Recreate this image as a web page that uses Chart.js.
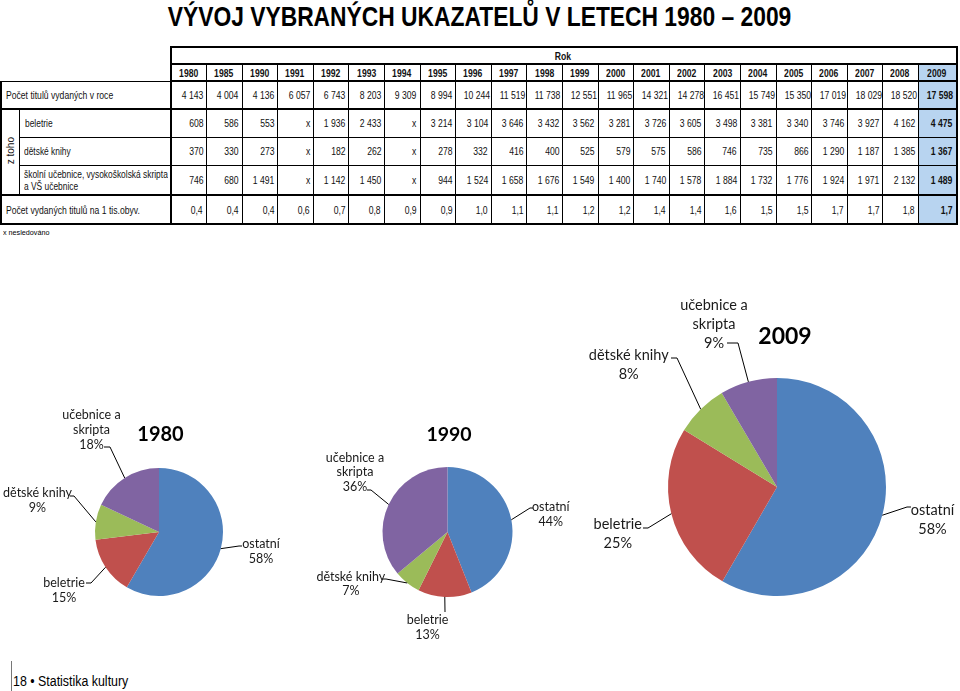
<!DOCTYPE html>
<html><head><meta charset="utf-8">
<script src="https://cdn.jsdelivr.net/npm/chart.js@4.4.0/dist/chart.umd.min.js"></script>
<style>
html,body{margin:0;padding:0;}
body{width:960px;height:691px;position:relative;background:#fff;overflow:hidden;
 font-family:'Liberation Sans',Arial,sans-serif;color:#000;}
.s{display:inline-block;transform:scaleX(0.82);white-space:nowrap;}
#title{position:absolute;left:0;top:1px;width:960px;text-align:center;font-weight:bold;font-size:28px;line-height:32px;}
#title .s{transform-origin:50% 50%;transform:scaleX(0.815);}
#tbl{position:absolute;left:0;top:46px;width:956px;border-collapse:collapse;table-layout:fixed;font-size:10.5px;color:#111;}
#tbl td{padding:0 3px 0 2px;white-space:nowrap;overflow:hidden;}
#tbl td.v{text-align:right;border:1px solid #000;}
#tbl td.v .s{transform-origin:100% 50%;}
#tbl td.h{text-align:center;font-weight:bold;border:1px solid #000;border-top:2px solid #000;border-bottom:2px solid #000;}
#tbl td.h .s{transform-origin:50% 50%;}
#tbl td.b{background:#b8d4f0;}
#tbl td.bb{font-weight:bold;}
#tbl td.lab{text-align:left;padding-left:4px;border:1px solid #000;border-left:2px solid #000;border-right:2px solid #000;}
#tbl td.lab2{text-align:left;padding-left:4px;border:1px solid #000;border-right:2px solid #000;line-height:12px;}
#tbl td.lab .s,#tbl td.lab2 .s{transform-origin:0 50%;}
#tbl td.lab2 .s{transform:scaleX(0.8);}
#tbl td.ztoho{border:2px solid #000;border-right:1px solid #000;text-align:center;padding:0;}
#tbl td.ztoho span{display:inline-block;writing-mode:vertical-rl;transform:rotate(180deg);font-size:10px;}
#tbl tr.thick td{border-bottom:2px solid #000;}
#tbl tr.thtop td{border-top:2px solid #000;}
#tbl td.last{border-right:2px solid #000;}
#note{position:absolute;left:3px;top:228px;font-size:8px;}
#note .s{transform-origin:0 50%;transform:scaleX(0.9);}
#foot{position:absolute;left:13px;top:671px;font-size:15.5px;line-height:20px;}
#foot .s{transform-origin:0 50%;transform:scaleX(0.8);}
#footbar{position:absolute;left:11px;top:661px;width:1px;height:30px;background:#777;}
canvas.pie{position:absolute;left:0;top:0;}
</style>
</head>
<body>
<div id="title"><span class="s">VÝVOJ VYBRANÝCH UKAZATELŮ V LETECH 1980 – 2009</span></div>
<table id="tbl"></table>
<div id="note"><span class="s">x nesledováno</span></div>
<div id="footbar"></div>
<div id="foot"><span class="s">18 • Statistika kultury</span></div>
<canvas class="pie" id="p1980" width="960" height="691"></canvas>
<canvas class="pie" id="p1990" width="960" height="691"></canvas>
<canvas class="pie" id="p2009" width="960" height="691"></canvas>
<script>
// ---- DATA ----
const years = [1980,1985,1990,1991,1992,1993,1994,1995,1996,1997,1998,1999,2000,2001,2002,2003,2004,2005,2006,2007,2008,2009];
const titlesTotal = [4143,4004,4136,6057,6743,8203,9309,8994,10244,11519,11738,12551,11965,14321,14278,16451,15749,15350,17019,18029,18520,17598];
const beletrie = [608,586,553,null,1936,2433,null,3214,3104,3646,3432,3562,3281,3726,3605,3498,3381,3340,3746,3927,4162,4475];
const detskeKnihy = [370,330,273,null,182,262,null,278,332,416,400,525,579,575,586,746,735,866,1290,1187,1385,1367];
const ucebnice = [746,680,1491,null,1142,1450,null,944,1524,1658,1676,1549,1400,1740,1578,1884,1732,1776,1924,1971,2132,1489];
const perThousand = [0.4,0.4,0.4,0.6,0.7,0.8,0.9,0.9,1.0,1.1,1.1,1.2,1.2,1.4,1.4,1.6,1.5,1.5,1.7,1.7,1.8,1.7];

const rowLabels = [['Počet titulů vydaných v roce'],['beletrie'],['dětské knihy'],['školní učebnice, vysokoškolská skripta','a VŠ učebnice'],['Počet vydaných titulů na 1 tis.obyv.']];
const pieCategories = ['ostatní','beletrie','dětské knihy','učebnice a skripta'];
const pieLabelLines = [['ostatní'],['beletrie'],['dětské knihy'],['učebnice a','skripta']];
const pieYears = [1980,1990,2009];
const piePctLabels = {1980:['58%','15%','9%','18%'],1990:['44%','13%','7%','36%'],2009:['58%','25%','8%','9%']};
const pieColors = ['#4f81bd','#c0504d','#9bbb59','#8064a2'];

// ---- TABLE ----
function fmtInt(n){ if(n===null) return 'x'; return String(n).replace(/\B(?=(\d{3})+(?!\d))/g,'\u00a0'); }
function fmtDec(n){ return n.toFixed(1).replace('.',','); }
function S(t){ return '<span class="s">'+t+'</span>'; }
function lab(lines){ return lines.map(S).join('<br>'); }
const tbl = document.getElementById('tbl');
const colW = [18,152].concat(years.map((y,i)=> i===years.length-1 ? 38 : 35.6));
let html = '<colgroup>'+colW.map(w=>'<col style="width:'+w+'px">').join('')+'</colgroup>';
const last = years.length-1;
html += '<tr style="height:17px"><td colspan="2" style="border:none"></td><td colspan="'+years.length+'" style="text-align:center;font-weight:bold;border:2px solid #000;">'+S('Rok')+'</td></tr>';
html += '<tr style="height:17px"><td colspan="2" style="border:none;border-right:2px solid #000"></td>'+years.map((y,i)=>'<td class="h'+(i===last?' b last':'')+'">'+S(y)+'</td>').join('')+'</tr>';
function dataRow(vals,fmt,labelCell,h,cls){
  return '<tr class="'+(cls||'')+'" style="height:'+h+'px">'+labelCell+vals.map((v,i)=>'<td class="v'+(i===last?' b bb last':'')+'">'+S(fmt(v))+'</td>').join('')+'</tr>';
}
html += dataRow(titlesTotal,fmtInt,'<td colspan="2" class="lab">'+lab(rowLabels[0])+'</td>',28,'thick');
html += dataRow(beletrie,fmtInt,'<td rowspan="3" class="ztoho"><span>z toho</span></td><td class="lab2" style="padding-left:5px">'+lab(rowLabels[1])+'</td>',28,'thtop');
html += dataRow(detskeKnihy,fmtInt,'<td class="lab2">'+lab(rowLabels[2])+'</td>',28,'');
html += dataRow(ucebnice,fmtInt,'<td class="lab2">'+lab(rowLabels[3])+'</td>',30,'thick');
html += dataRow(perThousand,fmtDec,'<td colspan="2" class="lab">'+lab(rowLabels[4])+'</td>',29,'thick');
tbl.innerHTML = html;

// ---- PIES ----
const pieGeom = {1980:{cx:159,cy:532,r:64,font:12.5,lh:15,title:20,tx:1.5,ty:-97},
                 1990:{cx:447.5,cy:532,r:65,font:12.5,lh:14.5,title:19.5,tx:1.5,ty:-97},
                 2009:{cx:777,cy:487,r:109,font:14.5,lh:19,title:23,tx:8,ty:-150}};
// label layout relative to pie centre: text centre x, first line y, leader elbow & end
const pieLayout = {
 1980:[{x:102,y:12,e:[80,14],f:[83,14]},{x:-95,y:51,e:[-68,51],f:[-73,51]},{x:-121.5,y:-39,e:[-85,-36],f:[-89,-36]},{x:-67.5,y:-117,e:[-49,-85],f:[-55,-85]}],
 1990:[{x:103.3,y:-24.7,e:[82.5,-24],f:[85.5,-24]},{x:-20,y:88,e:[-2.5,80],f:[-2.5,80]},{x:-96.7,y:44.7,e:[-61.5,47],f:[-65.5,47]},{x:-92.5,y:-74.3,e:[-76.5,-42],f:[-80.5,-42]}],
 2009:[{x:155.5,y:23,e:[130,20],f:[134,20]},{x:-159.2,y:37.3,e:[-129,41],f:[-134,41]},{x:-148.3,y:-132,e:[-100,-129],f:[-106,-129]},{x:-63,y:-182,e:[-39,-144],f:[-50,-144]}]
};

const labelPlugin = {
  id:'pieLabels',
  afterDatasetsDraw(chart){
    const yr = chart.options.plugins.pieLabels.year;
    const g = pieGeom[yr], lay = pieLayout[yr];
    const ctx = chart.ctx;
    const meta = chart.getDatasetMeta(0);
    ctx.save();
    meta.data.forEach((arc,i)=>{
      const p = arc.getProps(['x','y','startAngle','endAngle','outerRadius'],true);
      const mid = (p.startAngle+p.endAngle)/2;
      const ax = p.x + Math.cos(mid)*p.outerRadius, ay = p.y + Math.sin(mid)*p.outerRadius;
      const L = lay[i];
      ctx.strokeStyle='#000'; ctx.lineWidth=1;
      ctx.beginPath(); ctx.moveTo(ax,ay); ctx.lineTo(p.x+L.e[0],p.y+L.e[1]); ctx.lineTo(p.x+L.f[0],p.y+L.f[1]); ctx.stroke();
      const lines = pieLabelLines[i].concat([piePctLabels[yr][i]]);
      ctx.fillStyle='#1a1a1a'; ctx.font = g.font+'px Lato'; ctx.textAlign='center'; ctx.textBaseline='middle';
      lines.forEach((t,k)=>ctx.fillText(t,p.x+L.x,p.y+L.y+k*g.lh));
    });
    ctx.font = 'bold '+g.title+'px Lato'; ctx.fillStyle='#000'; ctx.textAlign='center'; ctx.textBaseline='middle';
    ctx.fillText(String(yr), g.cx+g.tx, g.cy+g.ty);
    ctx.restore();
  }
};

pieYears.forEach(yr=>{
  const i = years.indexOf(yr);
  const parts = [titlesTotal[i]-beletrie[i]-detskeKnihy[i]-ucebnice[i], beletrie[i], detskeKnihy[i], ucebnice[i]];
  const g = pieGeom[yr];
  new Chart(document.getElementById('p'+yr),{
    type:'pie',
    data:{labels:pieCategories,datasets:[{data:parts,backgroundColor:pieColors,borderWidth:0}]},
    options:{responsive:false,animation:false,devicePixelRatio:1,
      layout:{padding:{left:g.cx-g.r,right:960-g.cx-g.r,top:g.cy-g.r,bottom:691-g.cy-g.r}},
      plugins:{legend:{display:false},tooltip:{enabled:false},pieLabels:{year:yr}}},
    plugins:[labelPlugin]
  });
});
</script>
</body></html>
